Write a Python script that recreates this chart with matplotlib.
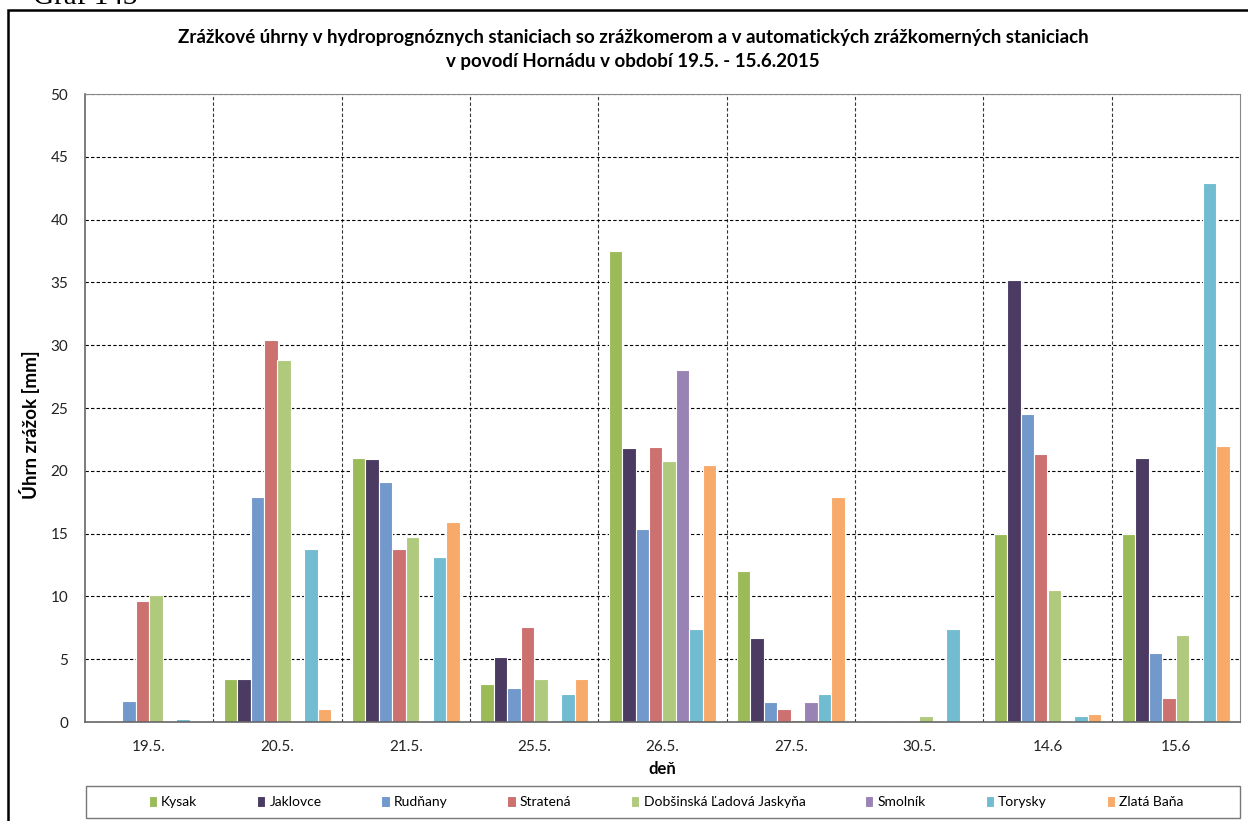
import numpy as np
import matplotlib.pyplot as plt
from matplotlib.patches import Rectangle

# kategorie (dni)
dni = ["19.5.", "20.5.", "21.5.", "25.5.", "26.5.", "27.5.", "30.5.", "14.6", "15.6"]

stanice = ["Kysak", "Jaklovce", "Rudňany", "Stratená", "Dobšinská Ľadová Jaskyňa",
           "Smolník", "Torysky", "Zlatá Baňa"]

farby = ["#9BBB59", "#4B3B62", "#7299CC", "#CD7070", "#B0CA7D", "#9983B5", "#71BCD1", "#F8AA6A"]

# uhrny zrazok [mm]
kysak = [0, 3.4, 21.0, 3.0, 37.5, 12.0, 0, 15.0, 15.0]
jaklovce = [0, 3.4, 20.9, 5.2, 21.8, 6.7, 0, 35.2, 21.0]
rudnany = [1.7, 17.9, 19.1, 2.7, 15.4, 1.6, 0, 24.5, 5.5]
stratena = [9.6, 30.4, 13.8, 7.6, 21.9, 1.0, 0.1, 21.3, 1.9]
dobsinska = [10.1, 28.8, 14.7, 3.4, 20.8, 0.15, 0.5, 10.5, 6.9]
smolnik = [0, 0, 0, 0, 28.0, 1.6, 0, 0, 0]
torysky = [0.2, 13.8, 13.1, 2.2, 7.4, 2.2, 7.4, 0.5, 42.9]
zlata_bana = [0, 1.0, 15.9, 3.4, 20.5, 17.9, 0, 0.6, 22.0]

data = [kysak, jaklovce, rudnany, stratena, dobsinska, smolnik, torysky, zlata_bana]

plt.rcParams['font.family'] = ['Lato', 'DejaVu Sans']

W, H = 1248, 821
fig = plt.figure(figsize=(W / 100, H / 100), dpi=100)

# vonkajsi ramik grafu
fig.patches.append(Rectangle((8 / W, -0.1), 1.2, 1 - 10 / H + 0.1, transform=fig.transFigure,
                             fill=False, edgecolor="black", linewidth=1.8))
# nadpis "Graf 143" je v originale odrezany hornym okrajom
fig.text(33 / W, 1 - 4 / H, "Graf 143", family="Liberation Serif", fontsize=21, va="baseline")

ax = fig.add_axes([85 / W, (H - 722) / H, (1240 - 85) / W, (722 - 94) / H])
ax.set_axisbelow(True)

x = np.arange(len(dni))
w = 0.105
for i, (nazov, hodnoty) in enumerate(zip(stanice, data)):
    ax.bar(x + (i - 3.5) * w, hodnoty, w, color=farby[i], edgecolor="white",
           linewidth=0.8, label=nazov, zorder=2)

ax.set_xlim(-0.5, len(dni) - 0.5)
ax.set_ylim(0, 50)
ax.set_yticks(np.arange(0, 51, 5))
ax.set_xticks(x)
ax.set_xticklabels(dni)
ax.set_xticks(np.arange(0.5, len(dni) - 1, 1), minor=True)
ax.tick_params(which="both", length=0, labelsize=11, colors="#222222")
ax.tick_params(axis="x", pad=13)
ax.tick_params(axis="y", pad=12)

ax.grid(axis="y", which="major", color="black", linestyle=(0, (3, 2)), linewidth=0.8)
ax.grid(axis="x", which="minor", color="#333333", linestyle=(0, (3, 2)), linewidth=0.8)

for s in ["top", "right"]:
    ax.spines[s].set_color("#888888")
for s in ["left", "bottom"]:
    ax.spines[s].set_color("#666666")
    ax.spines[s].set_linewidth(1.2)

ax.set_ylabel("Úhrn zrážok [mm]", fontsize=13.5, fontweight="bold")
ax.yaxis.set_label_coords(-0.039, 0.473)
ax.set_xlabel("deň", fontsize=12, fontweight="bold", labelpad=5)

fig.text(633 / W, 1 - 38 / H, "Zrážkové úhrny v hydroprognóznych staniciach so zrážkomerom a v automatických zrážkomerných staniciach",
         ha="center", va="center", fontsize=13.5, fontweight="bold")
fig.text(633 / W, 1 - 61 / H, "v povodí Hornádu v období 19.5. - 15.6.2015",
         ha="center", va="center", fontsize=13.5, fontweight="bold")

# ramik legendy
fig.patches.append(Rectangle((86 / W, (H - 818) / H), (1240 - 86) / W, 32 / H, transform=fig.transFigure,
                             fill=False, edgecolor="#777777", linewidth=1.0))
leg = fig.legend(loc="center", bbox_to_anchor=(666 / W, (H - 802) / H), ncol=8, fontsize=10,
                 frameon=False, handlelength=0.6, handleheight=0.8, handletextpad=0.3,
                 columnspacing=4.3, borderaxespad=0)

fig.savefig("out.png", dpi=100)
